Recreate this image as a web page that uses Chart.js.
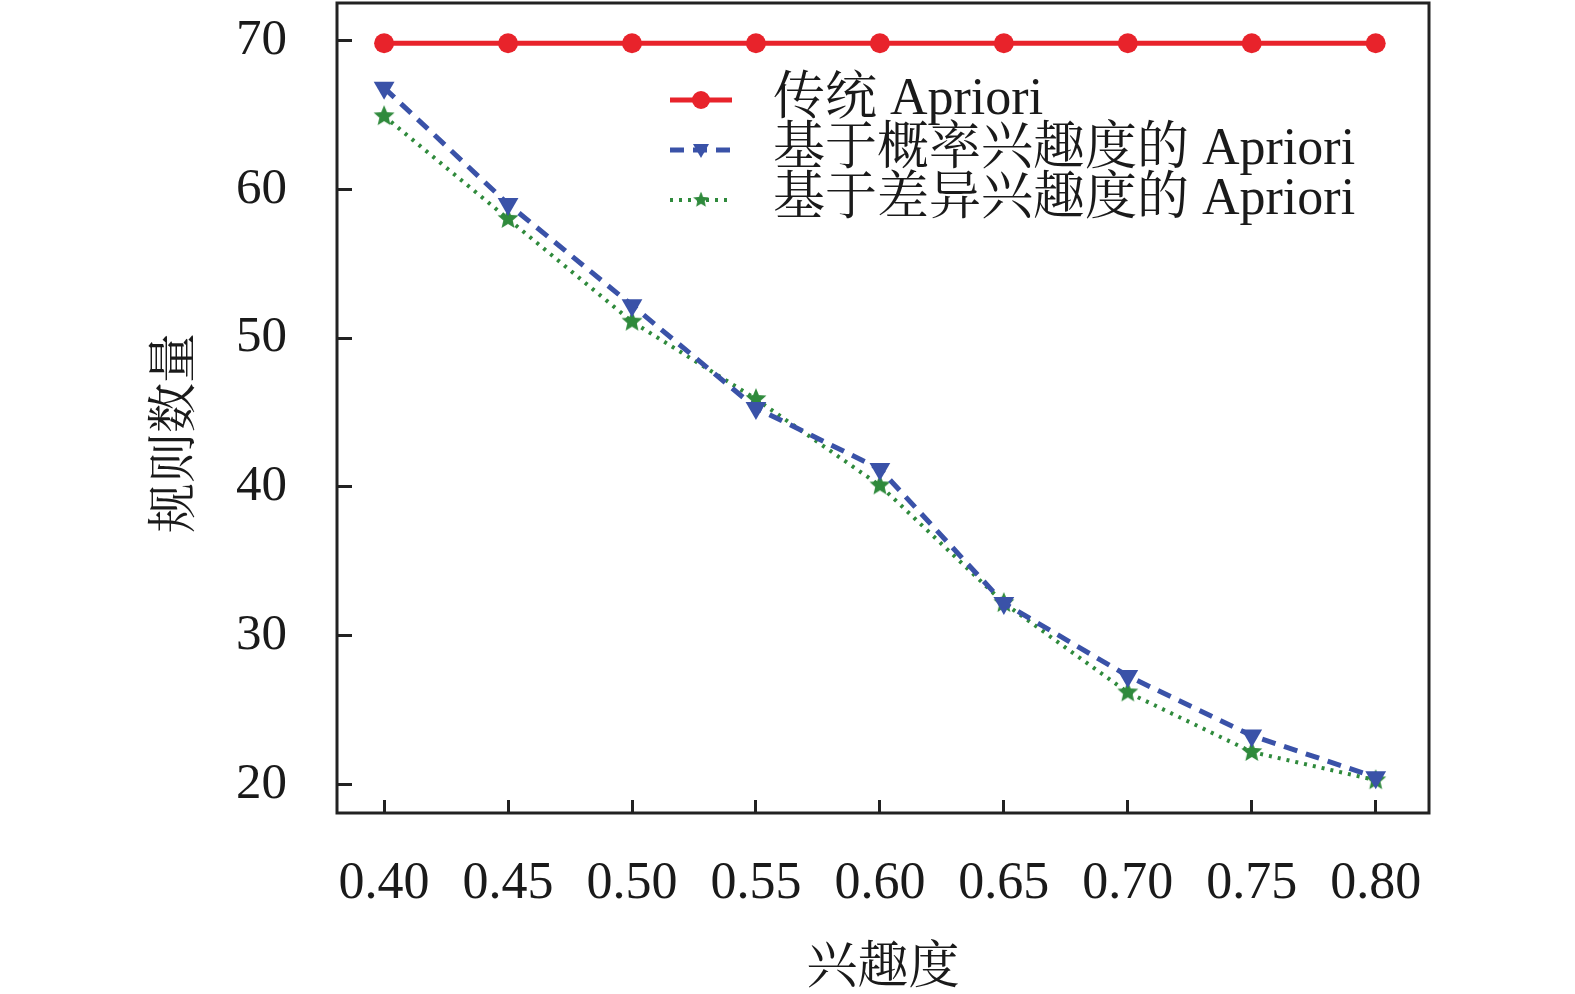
<!DOCTYPE html>
<html>
<head>
<meta charset="utf-8">
<script src="https://cdn.jsdelivr.net/npm/chart.js@4"></script>
<style>
  html, body { margin: 0; padding: 0; background: #fff; }
  #wrap { width: 1575px; height: 994px; }
</style>
</head>
<body>
<div id="wrap"><canvas id="chart" width="1575" height="994"></canvas></div>
<script>
const interest = [0.40, 0.45, 0.50, 0.55, 0.60, 0.65, 0.70, 0.75, 0.80];
const xTickLabels = ["0.40", "0.45", "0.50", "0.55", "0.60", "0.65", "0.70", "0.75", "0.80"];
const yTickValues = [20, 30, 40, 50, 60, 70];
const classic = [69.8, 69.8, 69.8, 69.8, 69.8, 69.8, 69.8, 69.8, 69.8];
const probInterest = [66.8, 59.0, 52.2, 45.3, 41.2, 32.2, 27.3, 23.3, 20.5];
const diffInterest = [64.9, 58.0, 51.1, 45.9, 40.1, 32.2, 26.2, 22.2, 20.3];
const seriesNames = ["传统 Apriori", "基于概率兴趣度的 Apriori", "基于差异兴趣度的 Apriori"];

const FONT = '"Liberation Serif", "Noto Serif CJK SC", "Noto Sans CJK SC", serif';
const RED = "#e8232b", BLUE = "#3a52a8", GREEN = "#2f8a3c";

// filled star marker
function makeStar(r, color) {
  const c = document.createElement("canvas");
  c.width = c.height = r * 2 + 2;
  const g = c.getContext("2d");
  g.fillStyle = color;
  g.beginPath();
  for (let i = 0; i < 10; i++) {
    const rad = i % 2 === 0 ? r : r * 0.45;
    const a = -Math.PI / 2 + i * Math.PI / 5;
    const px = r + 1 + rad * Math.cos(a), py = r + 1 + rad * Math.sin(a);
    i === 0 ? g.moveTo(px, py) : g.lineTo(px, py);
  }
  g.closePath();
  g.fill();
  return c;
}
const star = makeStar(11, GREEN);

const pts = arr => arr.map((v, i) => ({ x: interest[i], y: v }));

const frame = {
  id: "frame",
  afterDraw(chart) {
    const { ctx, chartArea: a } = chart;
    ctx.save();
    ctx.strokeStyle = "#222";
    ctx.lineWidth = 3;
    ctx.strokeRect(a.left, a.top, a.right - a.left, a.bottom - a.top);
    ctx.restore();
  }
};

const legendBox = {
  id: "legendBox",
  afterDraw(chart) {
    const { ctx } = chart;
    const x0 = 670, x1 = 732, tx = 773, y0 = 100, dy = 50;
    chart.data.datasets.forEach((ds, i) => {
      const y = y0 + i * dy;
      ctx.save();
      ctx.strokeStyle = ds.borderColor;
      ctx.lineWidth = ds.borderWidth;
      ctx.setLineDash(ds.borderDash || []);
      ctx.beginPath();
      ctx.moveTo(x0, y);
      ctx.lineTo(x1, y);
      ctx.stroke();
      ctx.setLineDash([]);
      const mx = (x0 + x1) / 2;
      ctx.fillStyle = ds.pointBackgroundColor;
      if (ds.pointStyle === "circle") {
        ctx.beginPath(); ctx.arc(mx, y, 9, 0, Math.PI * 2); ctx.fill();
      } else if (ds.pointStyle === "triangle") {
        ctx.beginPath(); ctx.moveTo(mx - 8, y - 6); ctx.lineTo(mx + 8, y - 6); ctx.lineTo(mx, y + 8); ctx.closePath(); ctx.fill();
      } else {
        ctx.drawImage(ds.pointStyle, mx - 9, y - 9, 18, 18);
      }
      ctx.fillStyle = "#1a1a1a";
      ctx.font = "52px " + FONT;
      ctx.textBaseline = "middle";
      ctx.fillText(ds.label, tx, y);
      ctx.restore();
    });
  }
};

new Chart(document.getElementById("chart"), {
  type: "line",
  data: {
    datasets: [{
      label: seriesNames[0],
      data: pts(classic),
      borderColor: RED,
      borderWidth: 5,
      pointStyle: "circle",
      pointRadius: 10,
      pointBackgroundColor: RED,
      pointBorderWidth: 0
    }, {
      label: seriesNames[1],
      data: pts(probInterest),
      borderColor: BLUE,
      borderWidth: 5,
      borderDash: [14, 9],
      pointStyle: "triangle",
      rotation: 180,
      pointRadius: 12,
      pointBackgroundColor: BLUE,
      pointBorderWidth: 0
    }, {
      label: seriesNames[2],
      data: pts(diffInterest),
      borderColor: GREEN,
      borderWidth: 4,
      borderDash: [3, 6],
      pointStyle: star,
      pointBackgroundColor: GREEN
    }]
  },
  options: {
    responsive: false,
    animation: false,
    layout: { autoPadding: false, padding: { top: 3, right: 146, left: 0, bottom: 0 } },
    plugins: {
      legend: { display: false },
      tooltip: { enabled: false }
    },
    scales: {
      x: {
        type: "linear",
        min: 0.381,
        max: 0.8215,
        afterBuildTicks: s => { s.ticks = interest.map(v => ({ value: v })); },
        afterFit: s => { s.height = 181; s.paddingLeft = 0; s.paddingRight = 0; },
        ticks: {
          callback: (v, i) => xTickLabels[i],
          color: "#1a1a1a",
          font: { family: FONT, size: 52 },
          padding: 53,
          maxRotation: 0
        },
        grid: { drawOnChartArea: false, tickLength: -13, tickWidth: 3, color: "#222" },
        border: { display: false },
        title: {
          display: true,
          text: "兴趣度",
          color: "#1a1a1a",
          font: { family: FONT, size: 51 },
          padding: { top: 0, bottom: -6 }
        }
      },
      y: {
        min: 18.1,
        max: 72.5,
        afterBuildTicks: s => { s.ticks = yTickValues.map(v => ({ value: v })); },
        afterFit: s => { s.width = 337; s.paddingTop = 0; s.paddingBottom = 0; },
        ticks: {
          color: "#1a1a1a",
          font: { family: FONT, size: 51 },
          padding: 65
        },
        grid: { drawOnChartArea: false, tickLength: -15, tickWidth: 3, color: "#222" },
        border: { display: false },
        title: {
          display: true,
          text: "规则数量　",
          color: "#1a1a1a",
          font: { family: FONT, size: 50 },
          padding: { top: 147, bottom: 0 }
        }
      }
    }
  },
  plugins: [frame, legendBox]
});
</script>
</body>
</html>
